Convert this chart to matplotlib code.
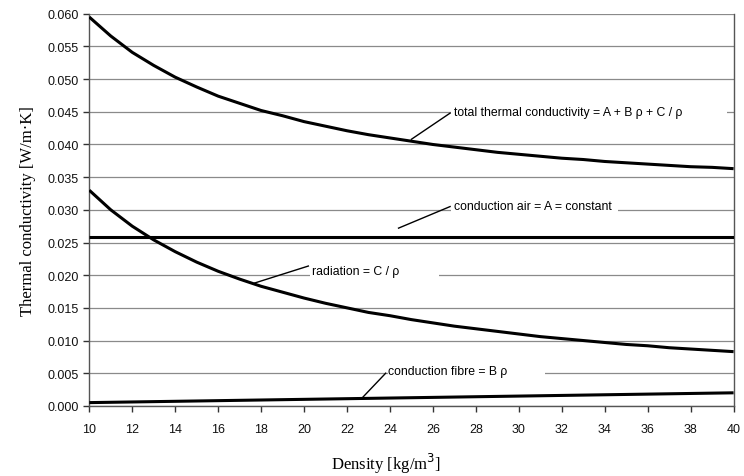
import matplotlib
matplotlib.use("Agg")
from matplotlib import pyplot as plt

# density [kg/m3] and the curves
density = list(range(10, 41))
radiation = [0.0330, 0.0300, 0.0275, 0.0254, 0.0236, 0.0220, 0.0206, 0.0194,
             0.0183, 0.0174, 0.0165, 0.0157, 0.0150, 0.0143, 0.0138, 0.0132,
             0.0127, 0.0122, 0.0118, 0.0114, 0.0110, 0.0106, 0.0103, 0.0100,
             0.0097, 0.0094, 0.0092, 0.0089, 0.0087, 0.0085, 0.0083]
fibre = [0.00050, 0.00055, 0.00060, 0.00065, 0.00070, 0.00075, 0.00080, 0.00085,
         0.00090, 0.00095, 0.00100, 0.00105, 0.00110, 0.00115, 0.00120, 0.00125,
         0.00130, 0.00135, 0.00140, 0.00145, 0.00150, 0.00155, 0.00160, 0.00165,
         0.00170, 0.00175, 0.00180, 0.00185, 0.00190, 0.00195, 0.00200]
air = [0.0259] * len(density)
total = [0.0595, 0.0566, 0.0541, 0.0521, 0.0503, 0.0488, 0.0474, 0.0463,
         0.0452, 0.0444, 0.0435, 0.0428, 0.0421, 0.0415, 0.0410, 0.0405,
         0.0400, 0.0396, 0.0392, 0.0388, 0.0385, 0.0382, 0.0379, 0.0377,
         0.0374, 0.0372, 0.0370, 0.0368, 0.0366, 0.0365, 0.0363]

y_ticks = [i * 0.005 for i in range(13)]
x_ticks = list(range(10, 41, 2))

plt.rcParams['font.family'] = ['Liberation Sans', 'DejaVu Sans']

fig = plt.figure(figsize=(7.44, 4.77), dpi=100)
ax = fig.add_axes([0.120, 0.147, 0.866, 0.822])

for y in y_ticks:
    ax.axhline(y, color='#8a8a8a', lw=0.9, zorder=1)

for series in (total, air, radiation, fibre):
    ax.plot(density, series, color='black', lw=2.2, zorder=3, solid_capstyle='butt')

# labels with leader lines: text, text pos, leader start, leader end, blank gap in grid
labels = [
    ("total thermal conductivity = A + B \u03c1 + C / \u03c1", (27.0, 0.0450), (26.8, 0.0448), (25.0, 0.0408), 26.85, 39.7),
    ("conduction air = A = constant", (27.0, 0.0306), (26.8, 0.0305), (24.4, 0.0272), 26.85, 34.6),
    ("radiation = C / \u03c1", (20.35, 0.0207), (20.2, 0.0214), (17.7, 0.0188), 20.3, 26.3),
    ("conduction fibre = B \u03c1", (23.9, 0.0054), (23.8, 0.0050), (22.7, 0.0012), 23.9, 31.2),
]
for text, pos, start, end, gap0, gap1 in labels:
    ax.fill_between([gap0, gap1], pos[1] - 0.0016, pos[1] + 0.0016, color='white', lw=0, zorder=2)
    ax.text(pos[0], pos[1], text, fontsize=8.8, va='center', ha='left', zorder=4)
    ax.plot([start[0], end[0]], [start[1], end[1]], color='black', lw=1.0, zorder=4)

ax.set_xlim(10, 40)
ax.set_ylim(0, 0.060)
ax.set_xticks(x_ticks)
ax.set_yticks(y_ticks)
ax.set_yticklabels(['%.3f' % y for y in y_ticks])
ax.tick_params(axis='both', direction='out', length=4, width=1, labelsize=9, color='#333333', labelcolor='#111111')
ax.tick_params(axis='x', pad=8)

for side in ('left', 'bottom', 'right', 'top'):
    ax.spines[side].set_color('#555555')
    ax.spines[side].set_linewidth(1.0)
ax.spines['top'].set_visible(False)

ax.set_xlabel('Density [kg/m$^3$]', family='Liberation Serif', fontsize=12)
ax.set_ylabel('Thermal conductivity [W/m\u00b7K]', family='Liberation Serif', fontsize=12, labelpad=8)
ax.xaxis.set_label_coords(0.46, -0.115)

fig.savefig('out.png', dpi=100)
